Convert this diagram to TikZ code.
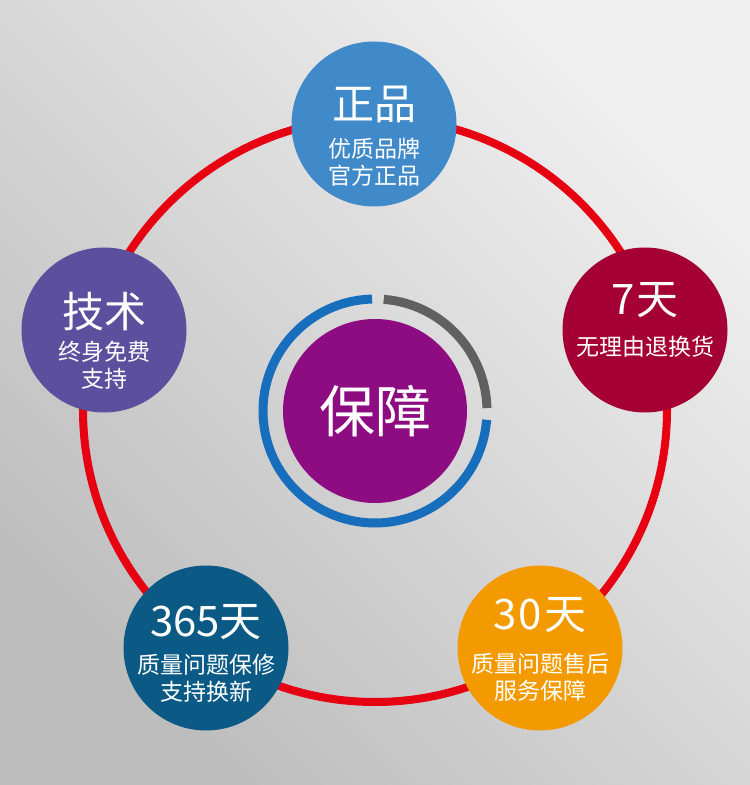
\documentclass[tikz,border=0pt]{standalone}
\usepackage{fontspec}
\usepackage{tikz}
\usetikzlibrary{positioning}
\newfontfamily\cjk{Noto Sans CJK SC}
\definecolor{Ring}{HTML}{E60012}
\definecolor{Genuine}{HTML}{418AC9}
\definecolor{Tech}{HTML}{5C4F9E}
\definecolor{Crimson}{HTML}{A40035}
\definecolor{Petrol}{HTML}{0A5A85}
\definecolor{Amber}{HTML}{F39A00}
\definecolor{Plum}{HTML}{8E0C82}
\definecolor{Arc}{HTML}{176EBD}
\definecolor{Slate}{HTML}{606060}
\definecolor{BgDark}{HTML}{BDBDBD}
\definecolor{BgLight}{HTML}{F0F0F0}

\begin{document}
\begin{tikzpicture}[x=1pt,y=1pt,
    badge/.style={circle,minimum size=165pt,inner sep=0pt},
    headline/.style={text=white,font=\cjk\fontsize{42}{46}\selectfont},
    subline/.style={text=white,align=center,font=\cjk\fontsize{23}{27}\selectfont},
    gauge/.style={line width=9pt}
  ]
    \shade[bottom color=BgDark,top color=BgLight,shading angle=-45] (0,0) rectangle (750,785);
    \useasboundingbox (0,0) rectangle (750,785);
    \coordinate (hub) at (375,375);
    \draw[Ring,line width=8pt] (hub) circle[radius=292];

    \node[badge,fill=Genuine] (zp) at (374,661) {};
    \node[badge,fill=Tech] (js) at (104,455) {};
    \node[badge,fill=Crimson] (qt) at (645,455) {};
    \node[badge,fill=Petrol] (sn) at (206,137) {};
    \node[badge,fill=Amber] (ss) at (540,137) {};

    \node[headline] (zp-t) at ([yshift=20]zp.center) {正品};
    \node[subline] (zp-s) at ([yshift=-38]zp.center) {优质品牌\\官方正品};
    \node[headline] (js-t) at ([yshift=18]js.center) {技术};
    \node[subline] (js-s) at ([yshift=-35]js.center) {终身免费\\支持};
    \node[headline] (qt-t) at ([yshift=30]qt.center) {7\kern2pt天};
    \node[subline] (qt-s) at ([yshift=-17]qt.center) {无理由退换货};
    \node[headline] (sn-t) at ([yshift=26]sn.center) {365天};
    \node[subline] (sn-s) at ([yshift=-30]sn.center) {质量问题保修\\支持换新};
    \node[headline] (ss-t) at ([yshift=33]ss.center) {3\kern2pt 0\kern2pt天};
    \node[subline] (ss-s) at ([yshift=-29]ss.center) {质量问题售后\\服务保障};

    % centre badge with its gauge ring
    \node[circle,fill=Plum,minimum size=184pt,inner sep=0pt,text=white,
          font=\cjk\fontsize{56}{60}\selectfont] (core) at (375,374) {保障};
    \draw[gauge,Slate] ([shift={(85.5:112)}]core.center) arc[start angle=85.5,end angle=1.5,radius=112];
    \draw[gauge,Arc] ([shift={(91.5:112)}]core.center) arc[start angle=91.5,end angle=355.5,radius=112];
  \end{tikzpicture}
\end{document}
